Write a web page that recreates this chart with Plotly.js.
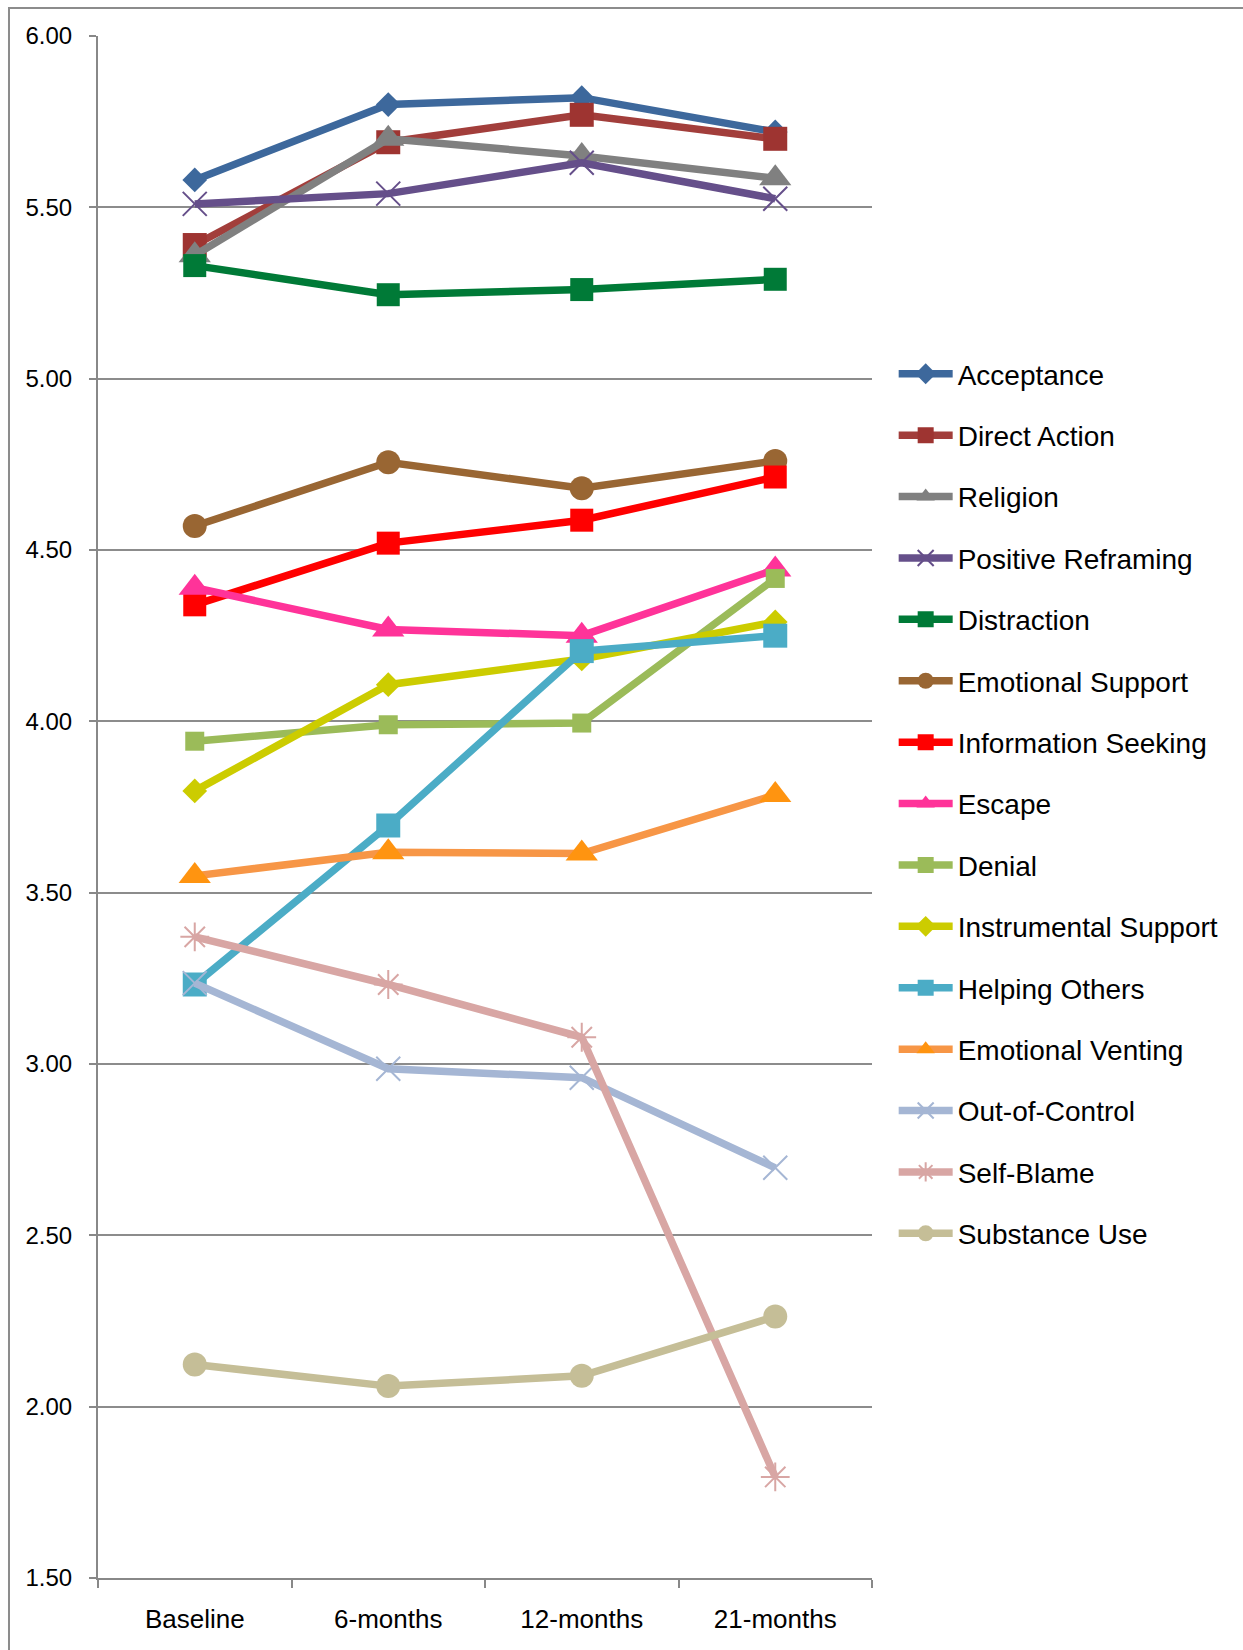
<!DOCTYPE html>
<html>
<head>
<meta charset="utf-8">
<script src="https://cdn.plot.ly/plotly-3.0.1.min.js"></script>
<style>
  html, body { margin: 0; padding: 0; background: #ffffff; }
  #chart { width: 1243px; height: 1650px; }
</style>
</head>
<body>
<div id="chart"></div>
<script>
// Time points of the study
const timepoints = ['Baseline', '6-months', '12-months', '21-months'];

// Mean coping scores per strategy
const acceptance          = [5.58, 5.80, 5.82, 5.72];
const directAction        = [5.39, 5.69, 5.77, 5.70];
const religion            = [5.36, 5.70, 5.65, 5.585];
const positiveReframing   = [5.51, 5.54, 5.63, 5.525];
const distraction         = [5.33, 5.245, 5.26, 5.29];
const emotionalSupport    = [4.57, 4.756, 4.68, 4.76];
const informationSeeking  = [4.34, 4.52, 4.587, 4.713];
const escape              = [4.39, 4.268, 4.25, 4.443];
const denial              = [3.942, 3.99, 3.995, 4.417];
const instrumentalSupport = [3.797, 4.107, 4.182, 4.29];
const helpingOthers       = [3.232, 3.696, 4.205, 4.25];
const emotionalVenting    = [3.549, 3.618, 3.614, 3.785];
const outOfControl        = [3.236, 2.986, 2.96, 2.697];
const selfBlame           = [3.371, 3.232, 3.078, 1.795];
const substanceUse        = [2.123, 2.06, 2.09, 2.263];

const yTickVals = [1.5, 2.0, 2.5, 3.0, 3.5, 4.0, 4.5, 5.0, 5.5, 6.0];

function series(name, values, lineColor, symbol, size, markerColor, open) {
  const marker = { symbol: symbol, size: size, color: markerColor || lineColor };
  if (open) {
    marker.line = { color: markerColor || lineColor, width: 2 };
  } else {
    marker.line = { width: 0 };
  }
  return {
    type: 'scatter',
    mode: 'lines+markers',
    name: name,
    legendgroup: name,
    x: timepoints,
    y: values,
    line: { color: lineColor, width: 7.5 },
    marker: marker,
    cliponaxis: false
  };
}

const traces = [
  series('Acceptance', acceptance, '#3D689C', 'diamond', 19),
  series('Direct Action', directAction, '#A23E3B', 'square', 24, '#9E3431'),
  series('Religion', religion, '#808080', 'triangle-up', 28),
  series('Positive Reframing', positiveReframing, '#654F8A', 'x-thin-open', 24, null, true),
  series('Distraction', distraction, '#007A37', 'square', 23),
  series('Emotional Support', emotionalSupport, '#996633', 'circle', 24),
  series('Information Seeking', informationSeeking, '#FF0000', 'square', 23),
  series('Escape', escape, '#FF3399', 'triangle-up', 28),
  series('Denial', denial, '#9BBB59', 'square', 19),
  series('Instrumental Support', instrumentalSupport, '#CCCC00', 'diamond', 19),
  series('Helping Others', helpingOthers, '#4BACC6', 'square', 24),
  series('Emotional Venting', emotionalVenting, '#F79646', 'triangle-up', 28, '#FF9410'),
  series('Out-of-Control', outOfControl, '#A5B6D4', 'x-thin-open', 24, null, true),
  series('Self-Blame', selfBlame, '#D8A6A4', 'asterisk-open', 24, null, true),
  series('Substance Use', substanceUse, '#C5BE97', 'circle', 24)
];

const layout = {
  width: 1243,
  height: 1650,
  margin: { l: 98, r: 371, t: 36, b: 72, pad: 0 },
  paper_bgcolor: '#ffffff',
  plot_bgcolor: '#ffffff',
  font: { family: '"Liberation Sans", Arial, sans-serif', color: '#000000' },
  showlegend: true,
  legend: {
    x: 1.028,
    xanchor: 'left',
    y: 0.797,
    yanchor: 'top',
    traceorder: 'grouped',
    tracegroupgap: 22,
    font: { size: 28, family: '"Liberation Sans", Arial, sans-serif', color: '#000000' },
    bgcolor: 'rgba(0,0,0,0)',
    borderwidth: 0,
    itemwidth: 54
  },
  xaxis: {
    type: 'category',
    range: [-0.5, 3.5],
    showgrid: false,
    showline: true,
    linecolor: '#888888',
    linewidth: 2,
    ticks: 'outside',
    tickson: 'boundaries',
    ticklen: 8,
    tickwidth: 2,
    tickcolor: '#888888',
    ticklabelstandoff: 17,
    tickfont: { size: 26 },
    zeroline: false,
    fixedrange: true
  },
  yaxis: {
    range: [1.5, 6.0],
    tickmode: 'array',
    tickvals: yTickVals,
    tickformat: '.2f',
    showgrid: true,
    gridcolor: '#8C8C8C',
    gridwidth: 2,
    showline: true,
    linecolor: '#888888',
    linewidth: 2,
    ticks: 'outside',
    ticklen: 7,
    tickwidth: 2,
    tickcolor: '#888888',
    ticklabelstandoff: 12,
    tickfont: { size: 24 },
    zeroline: false,
    fixedrange: true
  },
  shapes: [
    {
      type: 'rect',
      xref: 'paper', yref: 'paper',
      x0: -0.115, x1: 2.0, y0: -0.5, y1: 1.0182,
      line: { color: '#8C8C8C', width: 2 },
      fillcolor: 'rgba(0,0,0,0)',
      layer: 'below'
    }
  ]
};

Plotly.newPlot('chart', traces, layout, { displayModeBar: false, staticPlot: true });
</script>
</body>
</html>
